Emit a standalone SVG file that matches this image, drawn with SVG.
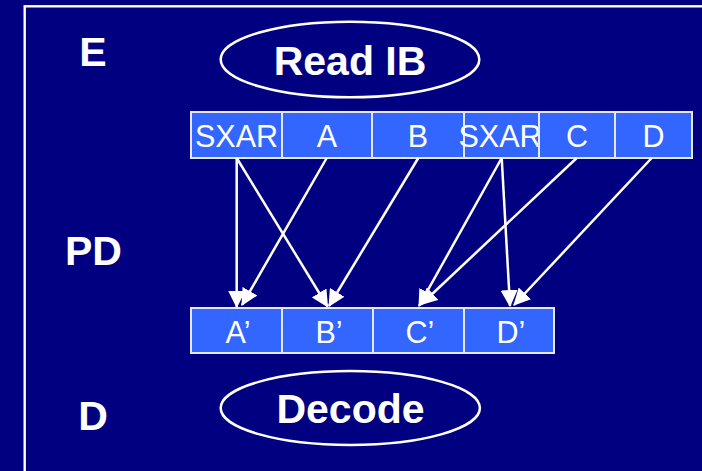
<svg xmlns="http://www.w3.org/2000/svg" width="702" height="471" viewBox="0 0 702 471">
  <style>
    .stage { font-family: "Liberation Sans", Arial, sans-serif; font-weight: bold; font-size: 41px; fill: #FFFFFF; text-anchor: middle; }
    .oval { fill: none; stroke: #FFFFFF; stroke-width: 2.5; }
    .cell { fill: #3366FF; stroke: #E6E8F4; stroke-width: 2; }
    .cell-text { font-family: "Liberation Sans", Arial, sans-serif; font-size: 30.5px; fill: #FFFFFF; text-anchor: middle; }
    .wire { stroke: #FFFFFF; stroke-width: 2.5; fill: none; marker-end: url(#arrow); }
  </style>
  <defs>
    <marker id="arrow" viewBox="0 0 16 16" markerUnits="userSpaceOnUse" markerWidth="17" markerHeight="17" refX="15" refY="8" orient="auto">
      <path d="M0,0 L16,8 L0,16 z" fill="#FFFFFF"/>
    </marker>
  </defs>

  <!-- background and frame -->
  <rect x="0" y="0" width="702" height="471" fill="#000080"/>
  <rect x="24.7" y="6.3" width="700" height="500" fill="none" stroke="#FFFFFF" stroke-width="2.4"/>

  <!-- stage labels -->
  <g id="label-e"><text class="stage" x="93" y="65.5">E</text></g>
  <g id="label-pd"><text class="stage" x="93.5" y="265">PD</text></g>
  <g id="label-d"><text class="stage" x="93" y="430">D</text></g>

  <!-- Read IB -->
  <g id="read-ib">
    <ellipse class="oval" cx="350" cy="59.5" rx="129.3" ry="37.8"/>
    <text class="stage" x="350" y="75">Read IB</text>
  </g>

  <!-- instruction buffer -->
  <g id="ib-sxar1"><rect class="cell" x="191" y="112" width="91" height="46"/><text class="cell-text" x="236.5" y="146.5">SXAR</text></g>
  <g id="ib-a"><rect class="cell" x="282" y="112" width="90" height="46"/><text class="cell-text" x="327" y="146.5">A</text></g>
  <g id="ib-b"><rect class="cell" x="372" y="112" width="92" height="46"/><text class="cell-text" x="418" y="146.5">B</text></g>
  <g id="ib-sxar2"><rect class="cell" x="464" y="112" width="75" height="46"/><text class="cell-text" x="500" y="146.5">SXAR</text></g>
  <g id="ib-c"><rect class="cell" x="539" y="112" width="76" height="46"/><text class="cell-text" x="577" y="146.5">C</text></g>
  <g id="ib-d"><rect class="cell" x="615" y="112" width="77" height="46"/><text class="cell-text" x="653.5" y="146.5">D</text></g>

  <!-- pre-decoded instructions -->
  <g id="pd-a"><rect class="cell" x="191" y="308" width="91" height="45"/><text class="cell-text" x="238" y="343">A’</text></g>
  <g id="pd-b"><rect class="cell" x="282" y="308" width="91" height="45"/><text class="cell-text" x="329" y="343">B’</text></g>
  <g id="pd-c"><rect class="cell" x="373" y="308" width="91" height="45"/><text class="cell-text" x="420" y="343">C’</text></g>
  <g id="pd-d"><rect class="cell" x="464" y="308" width="90" height="45"/><text class="cell-text" x="511" y="343">D’</text></g>

  <!-- connectors -->
  <g id="connectors">
    <line class="wire" x1="236.7" y1="158" x2="236.7" y2="307"/>
    <line class="wire" x1="236.7" y1="158" x2="327.5" y2="306.5"/>
    <line class="wire" x1="326.7" y1="158" x2="242" y2="305"/>
    <line class="wire" x1="418.3" y1="158" x2="329" y2="306"/>
    <line class="wire" x1="501.7" y1="158" x2="419" y2="306"/>
    <line class="wire" x1="501.7" y1="158" x2="510" y2="306"/>
    <line class="wire" x1="576.7" y1="158" x2="421" y2="304.5"/>
    <line class="wire" x1="651.7" y1="158" x2="514" y2="305"/>
  </g>

  <!-- Decode -->
  <g id="decode">
    <ellipse class="oval" cx="350.3" cy="408" rx="129.6" ry="37"/>
    <text class="stage" x="350.5" y="423.3">Decode</text>
  </g>
</svg>
